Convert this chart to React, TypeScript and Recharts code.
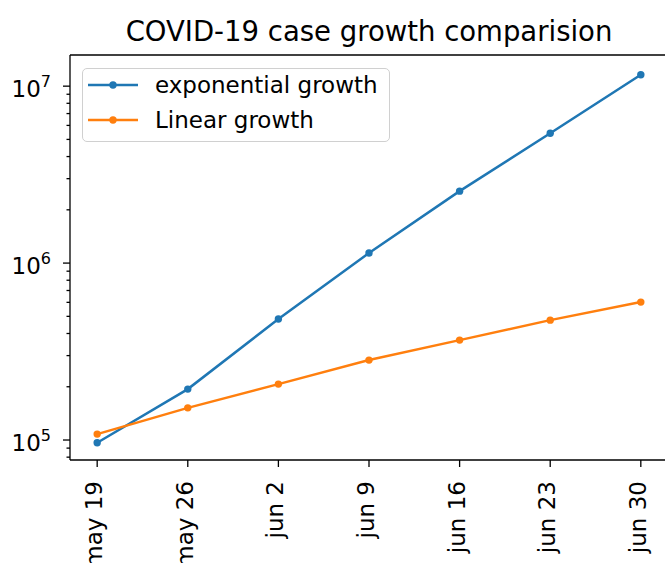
import React from "react";
import { LineChart, Line, XAxis, YAxis, Legend, ReferenceLine } from "recharts";

// weekly snapshots, log-scale y
const dates = ["may 19", "may 26", "jun 2", "jun 9", "jun 16", "jun 23", "jun 30"];
const exponential = [96500, 194000, 483000, 1140000, 2550000, 5420000, 11600000];
const linear = [108000, 152000, 207000, 283000, 367000, 476000, 602000];

const majorTicks = [1e5, 1e6, 1e7];
const minorTicks = [
  8e4, 9e4,
  2e5, 3e5, 4e5, 5e5, 6e5, 7e5, 8e5, 9e5,
  2e6, 3e6, 4e6, 5e6, 6e6, 7e6, 8e6, 9e6,
];
const yDomain = [77100, 1.5e7];

const BLUE = "#1f77b4";
const ORANGE = "#ff7f0e";
const FONT = "'DejaVu Sans', sans-serif";
const FS = 23;

const data = dates.map((d, i) => ({ i, exp: exponential[i], lin: linear[i] }));

function YTick(props: any) {
  const { x, y, payload } = props;
  const v = payload.value as number;
  const major = majorTicks.includes(v);
  const len = major ? 7 : 3.5;
  return (
    <g>
      <line x1={x - len} x2={x} y1={y} y2={y} stroke="#000" strokeWidth={1.3} />
      {major && (
        <text x={x - 19} y={y + 11} textAnchor="end" fill="#000" fontFamily={FONT} fontSize={FS}>
          10
          <tspan fontSize={16} dy={-10}>{Math.round(Math.log10(v))}</tspan>
        </text>
      )}
    </g>
  );
}

function XTick(props: any) {
  const { x, y, payload } = props;
  return (
    <g>
      <line x1={x} x2={x} y1={y} y2={y + 7} stroke="#000" strokeWidth={1.3} />
      <text
        x={x + 5}
        y={y + 21}
        transform={`rotate(-90 ${x + 5} ${y + 21})`}
        textAnchor="end"
        fill="#000"
        fontFamily={FONT}
        fontSize={FS}
      >
        {dates[payload.value]}
      </text>
    </g>
  );
}

function LegendBox() {
  const rows = [
    { label: "exponential growth", color: BLUE },
    { label: "Linear growth", color: ORANGE },
  ];
  return (
    <div style={{
      width: 306, height: 72, border: "1px solid #d0d0d0", borderRadius: 5,
      background: "rgba(255,255,255,0.8)", boxSizing: "content-box",
    }}>
      {rows.map((r, k) => (
        <div key={r.label} style={{ position: "absolute", left: 0, top: 17 + k * 35 - 12, height: 24, display: "flex", alignItems: "center" }}>
          <svg width={70} height={24} style={{ display: "block" }}>
            <line x1={6} x2={56} y1={12} y2={12} stroke={r.color} strokeWidth={2.5} />
            <circle cx={31} cy={12} r={3.7} fill={r.color} />
          </svg>
          <span style={{ fontFamily: FONT, fontSize: FS, color: "#000", marginLeft: 3, lineHeight: "24px", whiteSpace: "nowrap" }}>
            {r.label}
          </span>
        </div>
      ))}
    </div>
  );
}

export default function App() {
  return (
    <div style={{ position: "absolute", left: 0, top: 0, width: 665, height: 563, overflow: "hidden", background: "#fff" }}>
      <div style={{
        position: "absolute", left: 70, width: 598, top: 17, textAlign: "center",
        fontFamily: FONT, fontSize: 27.5, lineHeight: "28px", color: "#000", whiteSpace: "nowrap",
      }}>
        COVID-19 case growth comparision
      </div>
      <LineChart width={676} height={563} data={data} margin={{ top: 55, right: 8, bottom: 0, left: 0 }}>
        <XAxis
          dataKey="i"
          type="number"
          domain={[-0.3, 6.3]}
          ticks={[0, 1, 2, 3, 4, 5, 6]}
          interval={0}
          allowDataOverflow
          height={103}
          tickSize={0}
          tickMargin={0}
          tickLine={false}
          axisLine={{ stroke: "#000", strokeWidth: 1.3 }}
          tick={<XTick />}
        />
        <YAxis
          scale="log"
          type="number"
          domain={yDomain}
          allowDataOverflow
          ticks={[...majorTicks, ...minorTicks].sort((a, b) => a - b)}
          interval={0}
          width={70}
          tickSize={0}
          tickMargin={0}
          tickLine={false}
          axisLine={{ stroke: "#000", strokeWidth: 1.3 }}
          tick={<YTick />}
        />
        <ReferenceLine y={yDomain[1]} stroke="#000" strokeWidth={1.3} ifOverflow="extendDomain" />
        <ReferenceLine x={6.3} stroke="#000" strokeWidth={1.3} ifOverflow="extendDomain" />
        <Legend
          layout="vertical"
          align="center"
          verticalAlign="middle"
          content={() => <LegendBox />}
          wrapperStyle={{ position: "absolute", left: 82, top: 68, width: 308, height: 74 }}
        />
        <Line dataKey="exp" stroke={BLUE} strokeWidth={2.5} dot={{ r: 3.7, fill: BLUE, stroke: BLUE, strokeWidth: 0 }} activeDot={false} isAnimationActive={false} />
        <Line dataKey="lin" stroke={ORANGE} strokeWidth={2.5} dot={{ r: 3.7, fill: ORANGE, stroke: ORANGE, strokeWidth: 0 }} activeDot={false} isAnimationActive={false} />
      </LineChart>
    </div>
  );
}
